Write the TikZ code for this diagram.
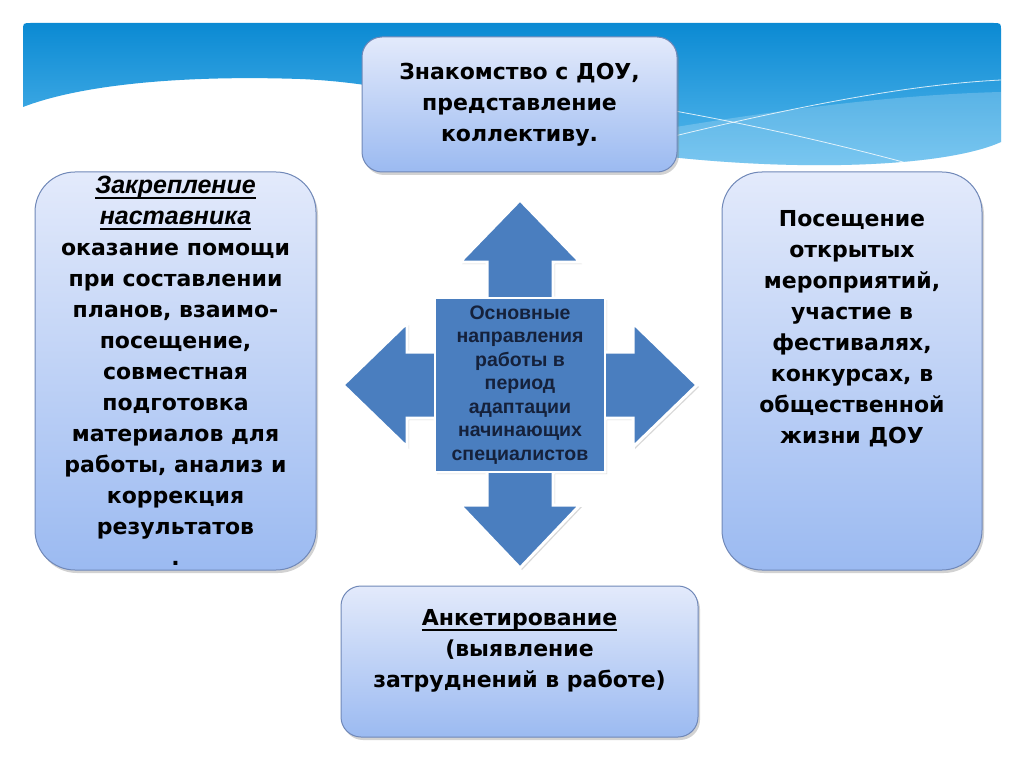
\documentclass[tikz,border=0pt]{standalone}
\usepackage{fontspec}
\newfontfamily\verdana{DejaVu Sans}
\newfontfamily\arial{Liberation Sans}
\usetikzlibrary{shadows}
\definecolor{bannertop}{HTML}{0B8AD3}
\definecolor{bannerbot}{HTML}{5CBBEE}
\definecolor{boxtop}{HTML}{E3EAFB}
\definecolor{boxbot}{HTML}{9BBAF1}
\definecolor{boxline}{HTML}{7088B8}
\definecolor{arrowblue}{HTML}{4A7EBF}
\definecolor{navy}{HTML}{15213B}
\newcommand{\ulthick}[1]{\leavevmode\setbox0=\hbox{#1}\rlap{\vrule height -3.5pt depth 5.5pt width \wd0}\box0}
\newcommand{\mentorfont}{\arial\bfseries\itshape\fontsize{25}{31}\selectfont}
\tikzset{
  infobox/.style={draw=boxline, line width=1pt, top color=boxtop, bottom color=boxbot,
    drop shadow={shadow xshift=2pt, shadow yshift=-3pt, opacity=0.35},
    inner sep=0pt, align=center, font=\verdana\bfseries\fontsize{22}{31}\selectfont},
  corebox/.style={fill=arrowblue, draw=white, line width=2pt, inner sep=0pt, align=center,
    text=navy, font=\arial\bfseries\fontsize{19.5}{23.5}\selectfont}
}
\begin{document}
\begin{tikzpicture}[x=1pt, y=-1pt]
    \useasboundingbox (0,0) rectangle (1024,767);
    \fill[white] (0,0) rectangle (1024,767);

    \shade[top color=bannertop, bottom color=bannerbot] (23,107) -- (23,31) .. controls (23,23) .. (31,23)
        -- (993,23) .. controls (1001,23) .. (1001,31) -- (1001,142)
        .. controls (950,165) and (820,172) .. (680,158)
        .. controls (560,145) and (450,85) .. (300,79)
        .. controls (180,75) and (80,85) .. (23,107) -- cycle;
    \fill[white, opacity=0.2] (600,140) .. controls (740,115) and (880,95) .. (1001,92) -- (1001,142)
        .. controls (950,165) and (820,172) .. (680,158) -- cycle;
    \draw[white, opacity=0.8, line width=0.8pt] (640,105) .. controls (760,125) and (860,150) .. (925,168);
    \draw[white, opacity=0.8, line width=0.8pt] (650,142) .. controls (780,110) and (900,85) .. (1001,80);

    \node[infobox, minimum width=315pt, minimum height=135pt, rounded corners=20pt] (intro) at (519.5,104.5)
        {Знакомство с ДОУ,\\ представление\\ коллективу.};
    \node[infobox, minimum width=281pt, minimum height=398pt, rounded corners=40pt] (mentor) at (175.5,371)
        {\ulthick{\mentorfont Закрепление}\\ \ulthick{\mentorfont наставника}\\
         оказание помощи\\ при составлении\\ планов, взаимо-\\ посещение,\\ совместная\\ подготовка\\
         материалов для\\ работы, анализ и\\ коррекция\\ результатов\\ .};
    \node[infobox, minimum width=260pt, minimum height=398pt, rounded corners=40pt] (events) at (852,371)
        {\begin{minipage}[c][322pt][t]{250pt}\centering
         Посещение\\ открытых\\ мероприятий,\\ участие в\\ фестивалях,\\ конкурсах, в\\ общественной\\ жизни ДОУ
         \end{minipage}};
    \node[infobox, minimum width=357pt, minimum height=151pt, rounded corners=20pt] (survey) at (519.5,661.5)
        {\begin{minipage}[c][105pt][t]{340pt}\centering
         \ulthick{Анкетирование}\\ (выявление\\ затруднений в работе)
         \end{minipage}};

    \filldraw[fill=arrowblue, draw=white, line width=3pt, line join=miter,
        drop shadow={shadow xshift=2pt, shadow yshift=-2pt, opacity=0.3}]
        (520,200) -- (580,262) -- (553,262) -- (553,298) -- (605,298) -- (605,352) -- (633,352)
        -- (633,323) -- (697,385) -- (633,447) -- (633,418) -- (605,418) -- (605,472) -- (553,472)
        -- (553,505) -- (580,505) -- (520,568) -- (460,505) -- (487,505) -- (487,472) -- (435,472)
        -- (435,418) -- (407,418) -- (407,447) -- (343,385) -- (407,323) -- (407,352) -- (435,352)
        -- (435,298) -- (487,298) -- (487,262) -- (460,262) -- cycle;
    \node[corebox, minimum width=170pt, minimum height=174pt] (core) at (520,385)
        {Основные\\ направления\\ работы в\\ период\\ адаптации\\ начинающих\\ специалистов};
\end{tikzpicture}
\end{document}
